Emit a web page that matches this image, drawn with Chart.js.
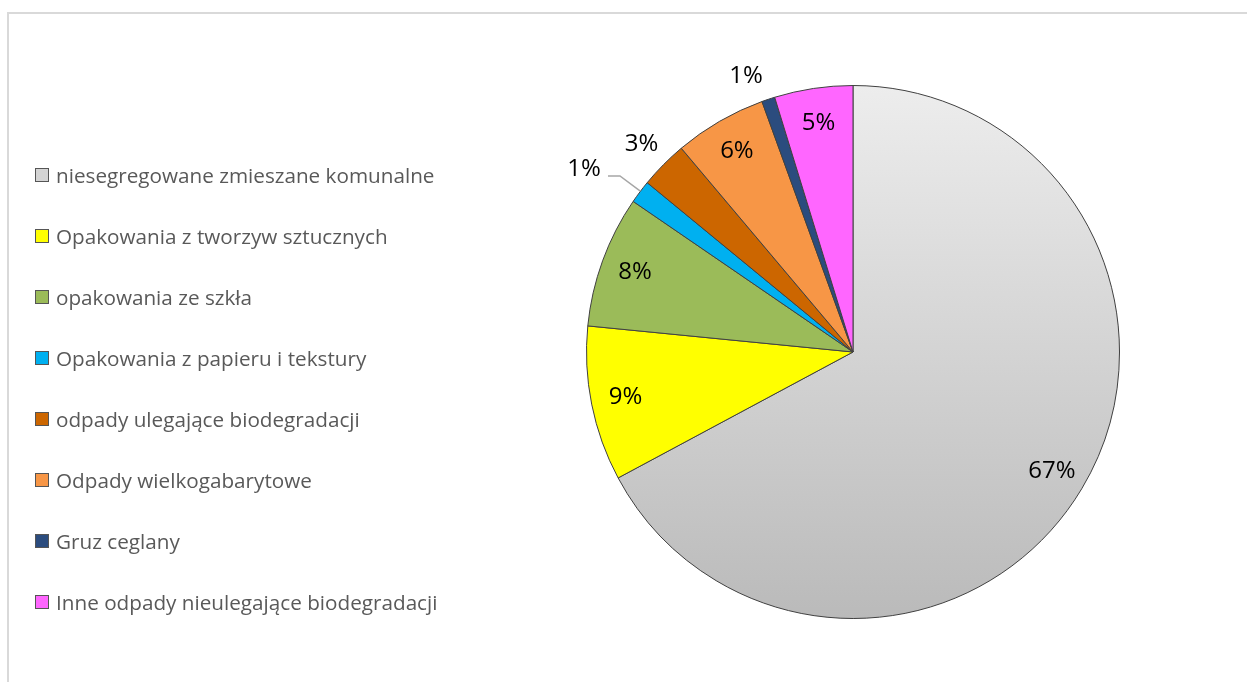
<!DOCTYPE html>
<html>
<head>
<meta charset="utf-8">
<script src="https://cdn.jsdelivr.net/npm/chart.js@4"></script>
<style>
  body { margin: 0; background: #fff; }
  #wrap { position: relative; width: 1247px; height: 682px; overflow: hidden; }
  #frame { position: absolute; left: 7px; top: 12px; width: 1400px; height: 800px; border: 2px solid #d9d9d9; }
  #pie { position: absolute; left: 0; top: 0; }
  #legend { position: absolute; left: 35px; top: 0; font-family: "Open Sans", sans-serif; font-size: 20.7px; color: #595959; }
  .item { position: absolute; left: 0; white-space: nowrap; display: flex; align-items: center; }
  .box { width: 12px; height: 12px; border: 1px solid #555; margin-right: 7px; }
</style>
</head>
<body>
<div id="wrap">
  <div id="frame"></div>
  <canvas id="pie" width="1247" height="682"></canvas>
  <div id="legend"></div>
</div>
<script>
// Categories and shares (percent of total)
const categories = [
    "niesegregowane zmieszane komunalne",
    "Opakowania z tworzyw sztucznych",
    "opakowania ze szkła",
    "Opakowania z papieru i tekstury",
    "odpady ulegające biodegradacji",
    "Odpady wielkogabarytowe",
    "Gruz ceglany",
    "Inne odpady nieulegające biodegradacji"
];
const shares = [67.2, 9.4, 8.0, 1.4, 2.9, 5.6, 0.8, 4.75];
const sliceColors = ["#d9d9d9", "#ffff00", "#9bbb59", "#00b0f0", "#cc6600", "#f79646", "#2b4c7e", "#ff66ff"];

// gray slice gets a top-to-bottom gradient
function sliceFill(ctx) {
    const i = ctx.dataIndex;
    if (i !== 0) return sliceColors[i];
    const area = ctx.chart.chartArea;
    if (!area) return sliceColors[0];
    const g = ctx.chart.ctx.createLinearGradient(0, area.top, 0, area.bottom);
    g.addColorStop(0, "#ededed");
    g.addColorStop(1, "#bababa");
    return g;
}

// percentage labels, small slices go outside
const pctLabels = {
    id: "pctLabels",
    afterDatasetsDraw(chart) {
        const ctx = chart.ctx;
        const meta = chart.getDatasetMeta(0);
        const total = shares.reduce((a, b) => a + b, 0);
        ctx.save();
        ctx.font = "24px 'Open Sans', sans-serif";
        ctx.fillStyle = "#000";
        ctx.textAlign = "center";
        ctx.textBaseline = "middle";
        meta.data.forEach((arc, i) => {
            const { x, y, startAngle, endAngle, outerRadius } = arc.getProps(["x", "y", "startAngle", "endAngle", "outerRadius"], true);
            const mid = (startAngle + endAngle) / 2;
            const pct = Math.round(shares[i] / total * 100) + "%";
            const share = shares[i] / total * 100;
            if (share >= 4) {
                const r = outerRadius * 0.87;
                ctx.fillText(pct, x + Math.cos(mid) * r, y + Math.sin(mid) * r);
            } else if (i === 3) {
                // callout with leader line
                const ex = x + Math.cos(mid) * outerRadius;
                const ey = y + Math.sin(mid) * outerRadius;
                const tx = ex - 56, ty = ey - 23;
                ctx.strokeStyle = "#a6a6a6";
                ctx.lineWidth = 1.5;
                ctx.beginPath();
                ctx.moveTo(ex, ey - 1);
                ctx.lineTo(ex - 20, ty + 7);
                ctx.lineTo(ex - 32, ty + 7);
                ctx.stroke();
                ctx.fillText(pct, tx, ty);
            } else {
                const r = outerRadius * 1.115;
                const a = mid - (i === 6 ? 0.045 : 0);
                ctx.fillText(pct, x + Math.cos(a) * r, y + Math.sin(a) * r + 1);
            }
        });
        ctx.restore();
    }
};

new Chart(document.getElementById("pie"), {
    type: "pie",
    data: {
        labels: categories,
        datasets: [{
            data: shares,
            backgroundColor: sliceFill,
            borderColor: "#404040",
            borderWidth: 1
        }]
    },
    options: {
        responsive: false,
        animation: false,
        layout: { padding: { left: 586, right: 127, top: 85, bottom: 63 } },
        plugins: { legend: { display: false }, tooltip: { enabled: false } }
    },
    plugins: [pctLabels]
});

// legend on the left
const legend = document.getElementById("legend");
categories.forEach((name, i) => {
    const row = document.createElement("div");
    row.className = "item";
    row.style.top = (161 + i * 61) + "px";
    row.innerHTML = '<span class="box" style="background:' + (i === 0 ? "#d4d4d4" : sliceColors[i]) + '"></span>' + name;
    legend.appendChild(row);
});
</script>
</body>
</html>
